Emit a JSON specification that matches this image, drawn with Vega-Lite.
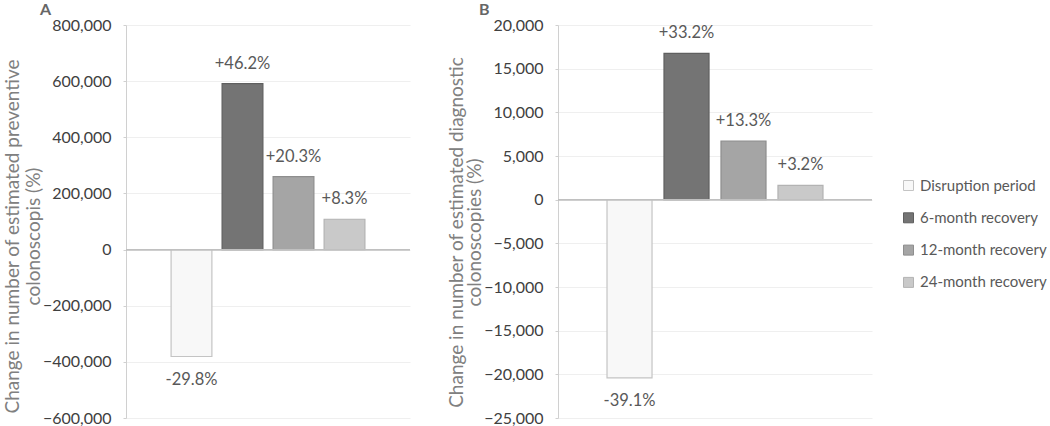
{
  "$schema": "https://vega.github.io/schema/vega-lite/v6.json",
  "padding": {"left": 3, "top": 2, "right": 0, "bottom": 0},
  "background": "white",
  "config": {
    "font": "Lato",
    "view": {"stroke": null},
    "axis": {"labelFont": "Lato", "titleFont": "Lato"},
    "concat": {"spacing": 36},
    "legend": {"orient": "none", "legendX": 775, "legendY": 153, "labelFontSize": 15, "labelColor": "#595959", "symbolType": "square", "symbolSize": 100, "symbolStrokeWidth": 1, "rowPadding": 16.3, "labelOffset": 4, "labelFont": "Lato"}
  },
  "datasets": {
    "bars": [
      {"panel": "A", "series": "Disruption period", "value": -381000, "label": "-29.8%"},
      {"panel": "A", "series": "6-month recovery", "value": 591000, "label": "+46.2%"},
      {"panel": "A", "series": "12-month recovery", "value": 260000, "label": "+20.3%"},
      {"panel": "A", "series": "24-month recovery", "value": 108000, "label": "+8.3%"},
      {"panel": "B", "series": "Disruption period", "value": -20400, "label": "-39.1%"},
      {"panel": "B", "series": "6-month recovery", "value": 16750, "label": "+33.2%"},
      {"panel": "B", "series": "12-month recovery", "value": 6720, "label": "+13.3%"},
      {"panel": "B", "series": "24-month recovery", "value": 1640, "label": "+3.2%"}
    ]
  },
  "resolve": {"scale": {"fill": "shared", "stroke": "shared"}},
  "hconcat": [
    {
      "width": 284,
      "height": 393,
      "title": {"text": "A", "anchor": "start", "frame": "group", "dx": -86, "fontSize": 16, "fontWeight": "bold", "color": "#666666", "offset": -1},
      "data": {"name": "bars"},
      "transform": [{"filter": "datum.panel === 'A'"}],
      "encoding": {
        "x": {"field": "series", "type": "nominal", "sort": ["Disruption period", "6-month recovery", "12-month recovery", "24-month recovery"], "axis": null, "scale": {"paddingInner": 0.2, "paddingOuter": 0.884}},
        "y": {"field": "value", "type": "quantitative", "scale": {"domain": [-600000, 800000], "nice": false, "zero": true},
          "axis": {"values": [-600000, -400000, -200000, 0, 200000, 400000, 600000, 800000], "format": ",.0f", "title": ["Change in number of estimated preventive", "colonoscopis (%)"],
            "titleFontSize": 19, "titleFontWeight": "normal", "titleColor": "#808080", "titleLineHeight": 21, "titlePadding": -1, "titleY": 211,
            "labelFontSize": 16, "labelColor": "#404040", "labelPadding": 12, "tickSize": 3, "tickColor": "#d0d0d0", "domainColor": "#d0d0d0", "gridColor": "#efefef"}}
      },
      "layer": [
        {"mark": {"type": "bar", "strokeWidth": 1.2},
          "encoding": {
            "fill": {"field": "series", "type": "nominal", "scale": {"domain": ["Disruption period", "6-month recovery", "12-month recovery", "24-month recovery"], "range": ["#f8f8f8", "#747474", "#a5a5a5", "#c9c9c9"]}, "legend": {"title": null}},
            "stroke": {"field": "series", "type": "nominal", "scale": {"domain": ["Disruption period", "6-month recovery", "12-month recovery", "24-month recovery"], "range": ["#c4c4c4", "#5f5f5f", "#8e8e8e", "#b3b3b3"]}, "legend": {"title": null}}
          }},
        {"mark": {"type": "rule", "color": "#c0c0c0", "strokeWidth": 1.2}, "encoding": {"y": {"datum": 0}, "x": null}},
        {"transform": [{"filter": "datum.value > 0"}], "mark": {"type": "text", "baseline": "middle", "dy": -20, "fontSize": 16.5, "color": "#595959"}, "encoding": {"text": {"field": "label"}}},
        {"transform": [{"filter": "datum.value < 0"}], "mark": {"type": "text", "baseline": "middle", "dy": 23, "fontSize": 16.5, "color": "#595959"}, "encoding": {"text": {"field": "label"}}}
      ]
    },
    {
      "width": 314,
      "height": 393,
      "title": {"text": "B", "anchor": "start", "frame": "group", "dx": -79, "fontSize": 16, "fontWeight": "bold", "color": "#666666", "offset": -1},
      "data": {"name": "bars"},
      "transform": [{"filter": "datum.panel === 'B'"}],
      "encoding": {
        "x": {"field": "series", "type": "nominal", "sort": ["Disruption period", "6-month recovery", "12-month recovery", "24-month recovery"], "axis": null, "scale": {"paddingInner": 0.21, "paddingOuter": 0.86}},
        "y": {"field": "value", "type": "quantitative", "scale": {"domain": [-25000, 20000], "nice": false, "zero": true},
          "axis": {"values": [-25000, -20000, -15000, -10000, -5000, 0, 5000, 10000, 15000, 20000], "format": ",.0f", "title": ["Change in number of estimated diagnostic", "colonoscopies (%)"],
            "titleFontSize": 19, "titleFontWeight": "normal", "titleColor": "#808080", "titleLineHeight": 18, "titlePadding": -1, "titleY": 207,
            "labelFontSize": 16, "labelColor": "#404040", "labelPadding": 12, "tickSize": 3, "tickColor": "#d0d0d0", "domainColor": "#d0d0d0", "gridColor": "#efefef"}}
      },
      "layer": [
        {"mark": {"type": "bar", "strokeWidth": 1.2},
          "encoding": {
            "fill": {"field": "series", "type": "nominal", "scale": {"domain": ["Disruption period", "6-month recovery", "12-month recovery", "24-month recovery"], "range": ["#f8f8f8", "#747474", "#a5a5a5", "#c9c9c9"]}, "legend": {"title": null}},
            "stroke": {"field": "series", "type": "nominal", "scale": {"domain": ["Disruption period", "6-month recovery", "12-month recovery", "24-month recovery"], "range": ["#c4c4c4", "#5f5f5f", "#8e8e8e", "#b3b3b3"]}, "legend": {"title": null}}
          }},
        {"mark": {"type": "rule", "color": "#c0c0c0", "strokeWidth": 1.2}, "encoding": {"y": {"datum": 0}, "x": null}},
        {"transform": [{"filter": "datum.value > 0"}], "mark": {"type": "text", "baseline": "middle", "dy": -20, "fontSize": 16.5, "color": "#595959"}, "encoding": {"text": {"field": "label"}}},
        {"transform": [{"filter": "datum.value < 0"}], "mark": {"type": "text", "baseline": "middle", "dy": 23, "fontSize": 16.5, "color": "#595959"}, "encoding": {"text": {"field": "label"}}}
      ]
    }
  ]
}
